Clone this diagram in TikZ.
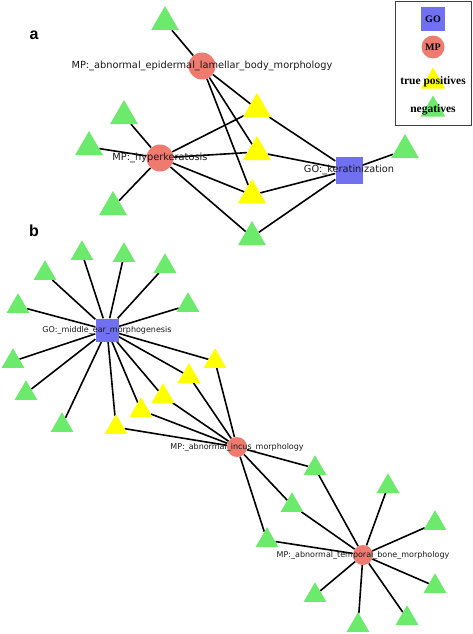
\documentclass[tikz,border=0pt]{standalone}
\usepackage{fontspec}
\usetikzlibrary{shapes.geometric}
\newfontfamily\lblfont{DejaVu Sans}
\newfontfamily\legfont{Liberation Serif}
\newfontfamily\panelfont{Liberation Sans}
\definecolor{gocol}{RGB}{112,112,240}
\definecolor{mpcol}{RGB}{238,122,112}
\definecolor{tpcol}{RGB}{255,255,0}
\definecolor{negcol}{RGB}{108,234,108}
\pgfdeclarelayer{bg}
\pgfsetlayers{bg,main}
\tikzset{
  gosq/.style={rectangle, fill=gocol, inner sep=0pt, minimum size=#1},
  mpdot/.style={circle, fill=mpcol, inner sep=0pt, minimum size=#1},
  tri/.style={regular polygon, regular polygon sides=3, inner sep=0pt, minimum size=#1, yshift=-#1/8},
  tp/.style={tri=#1, fill=tpcol},
  neg/.style={tri=#1, fill=negcol},
  lblA/.style={font=\lblfont\fontsize{9.8}{10}\selectfont, text=black!90},
  lblB/.style={font=\lblfont\fontsize{8}{9}\selectfont, text=black!90},
  legtxt/.style={font=\legfont\bfseries\fontsize{11.5}{12}\selectfont},
  panel/.style={font=\panelfont\bfseries\fontsize{16}{16}\selectfont},
  link/.style={line width=1.6pt},
}

\begin{document}
\begin{tikzpicture}[x=1pt, y=-1pt]
  \useasboundingbox (0,0) rectangle (472,634);
  \node[panel] (pa) at (34,35) {a};
  \node[panel] (pb) at (34,231) {b};

  \node[mpdot=27, label={[lblA]center:{MP:\_abnormal\_epidermal\_lamellar\_body\_morphology}}] (mpA) at (202,66) {};
  \node[mpdot=27, label={[lblA]center:{MP:\_hyperkeratosis}}] (mpB) at (160,158) {};
  \node[gosq=27, label={[lblA]center:{GO:\_keratinization}}] (goA) at (349,170) {};
  \node[tp=32] (ya1) at (257,105) {};
  \node[tp=32] (ya2) at (257,148) {};
  \node[tp=32] (ya3) at (252,191) {};
  \node[neg=32] (ga1) at (165,18) {};
  \node[neg=32] (ga2) at (124,112) {};
  \node[neg=32] (ga3) at (89,143) {};
  \node[neg=32] (ga4) at (113,203) {};
  \node[neg=32] (ga5) at (252,233) {};
  \node[neg=32] (ga6) at (405,146) {};

  \node[gosq=23, label={[lblB]center:{GO:\_middle\_ear\_morphogenesis}}] (goB) at (107,330) {};
  \node[mpdot=20, label={[lblB]center:{MP:\_abnormal\_incus\_morphology}}] (mpC) at (237,447) {};
  \node[mpdot=20, label={[lblB]center:{MP:\_abnormal\_temporal\_bone\_morphology}}] (mpD) at (363,555) {};
  \node[tp=26] (yb1) at (215,358) {};
  \node[tp=26] (yb2) at (189,373) {};
  \node[tp=26] (yb3) at (163,393) {};
  \node[tp=26] (yb4) at (141,407) {};
  \node[tp=26] (yb5) at (116,424) {};
  \node[neg=26] (gb1) at (82,250) {};
  \node[neg=26] (gb2) at (124,252) {};
  \node[neg=26] (gb3) at (45,270) {};
  \node[neg=26] (gb4) at (165,263) {};
  \node[neg=26] (gb5) at (18,303) {};
  \node[neg=26] (gb6) at (188,302) {};
  \node[neg=26] (gb7) at (13,358) {};
  \node[neg=26] (gb8) at (26,390) {};
  \node[neg=26] (gb9) at (62,422) {};
  \node[neg=26] (gb10) at (315,465) {};
  \node[neg=26] (gb11) at (292,502) {};
  \node[neg=26] (gb12) at (267,537) {};
  \node[neg=26] (gb13) at (388,483) {};
  \node[neg=26] (gb14) at (435,520) {};
  \node[neg=26] (gb15) at (435,583) {};
  \node[neg=26] (gb16) at (407,615) {};
  \node[neg=26] (gb17) at (358,622) {};
  \node[neg=26] (gb18) at (315,592) {};

  \node[draw=black!75, line width=1pt, minimum width=76, minimum height=123] (legend) at (433,63.5) {};
  \node[gosq=24, font=\legfont\bfseries\fontsize{10}{10}\selectfont] (keyGO) at (433,19) {GO};
  \node[mpdot=23, font=\legfont\bfseries\fontsize{10}{10}\selectfont] (keyMP) at (433,47) {MP};
  \node[tp=28, label={[legtxt]center:{true positives}}] (keyTP) at (433,78) {};
  \node[neg=28, label={[legtxt]center:{negatives}}] (keyNEG) at (433,106) {};

  \begin{pgfonlayer}{bg}
    \draw[link] (mpA) edge (ga1) edge (ya1) edge (ya2) edge (ya3);
    \draw[link] (mpB) edge (ga2) edge (ga3) edge (ga4) edge (ya1) edge (ya2) edge (ya3) edge (ga5);
    \draw[link] (goA) edge (ya1) edge (ya2) edge (ya3) edge (ga5) edge (ga6);
    \draw[link] (goB) edge (gb1) edge (gb2) edge (gb3) edge (gb4) edge (gb5) edge (gb6) edge (gb7) edge (gb8) edge (gb9)
      edge (yb1) edge (yb2) edge (yb3) edge (yb4) edge (yb5);
    \draw[link] (mpC) edge (yb1) edge (yb2) edge (yb3) edge (yb4) edge (yb5) edge (gb10) edge (gb11) edge (gb12);
    \draw[link] (mpD) edge (gb10) edge (gb11) edge (gb12) edge (gb13) edge (gb14) edge (gb15) edge (gb16) edge (gb17) edge (gb18);
  \end{pgfonlayer}
\end{tikzpicture}
\end{document}
